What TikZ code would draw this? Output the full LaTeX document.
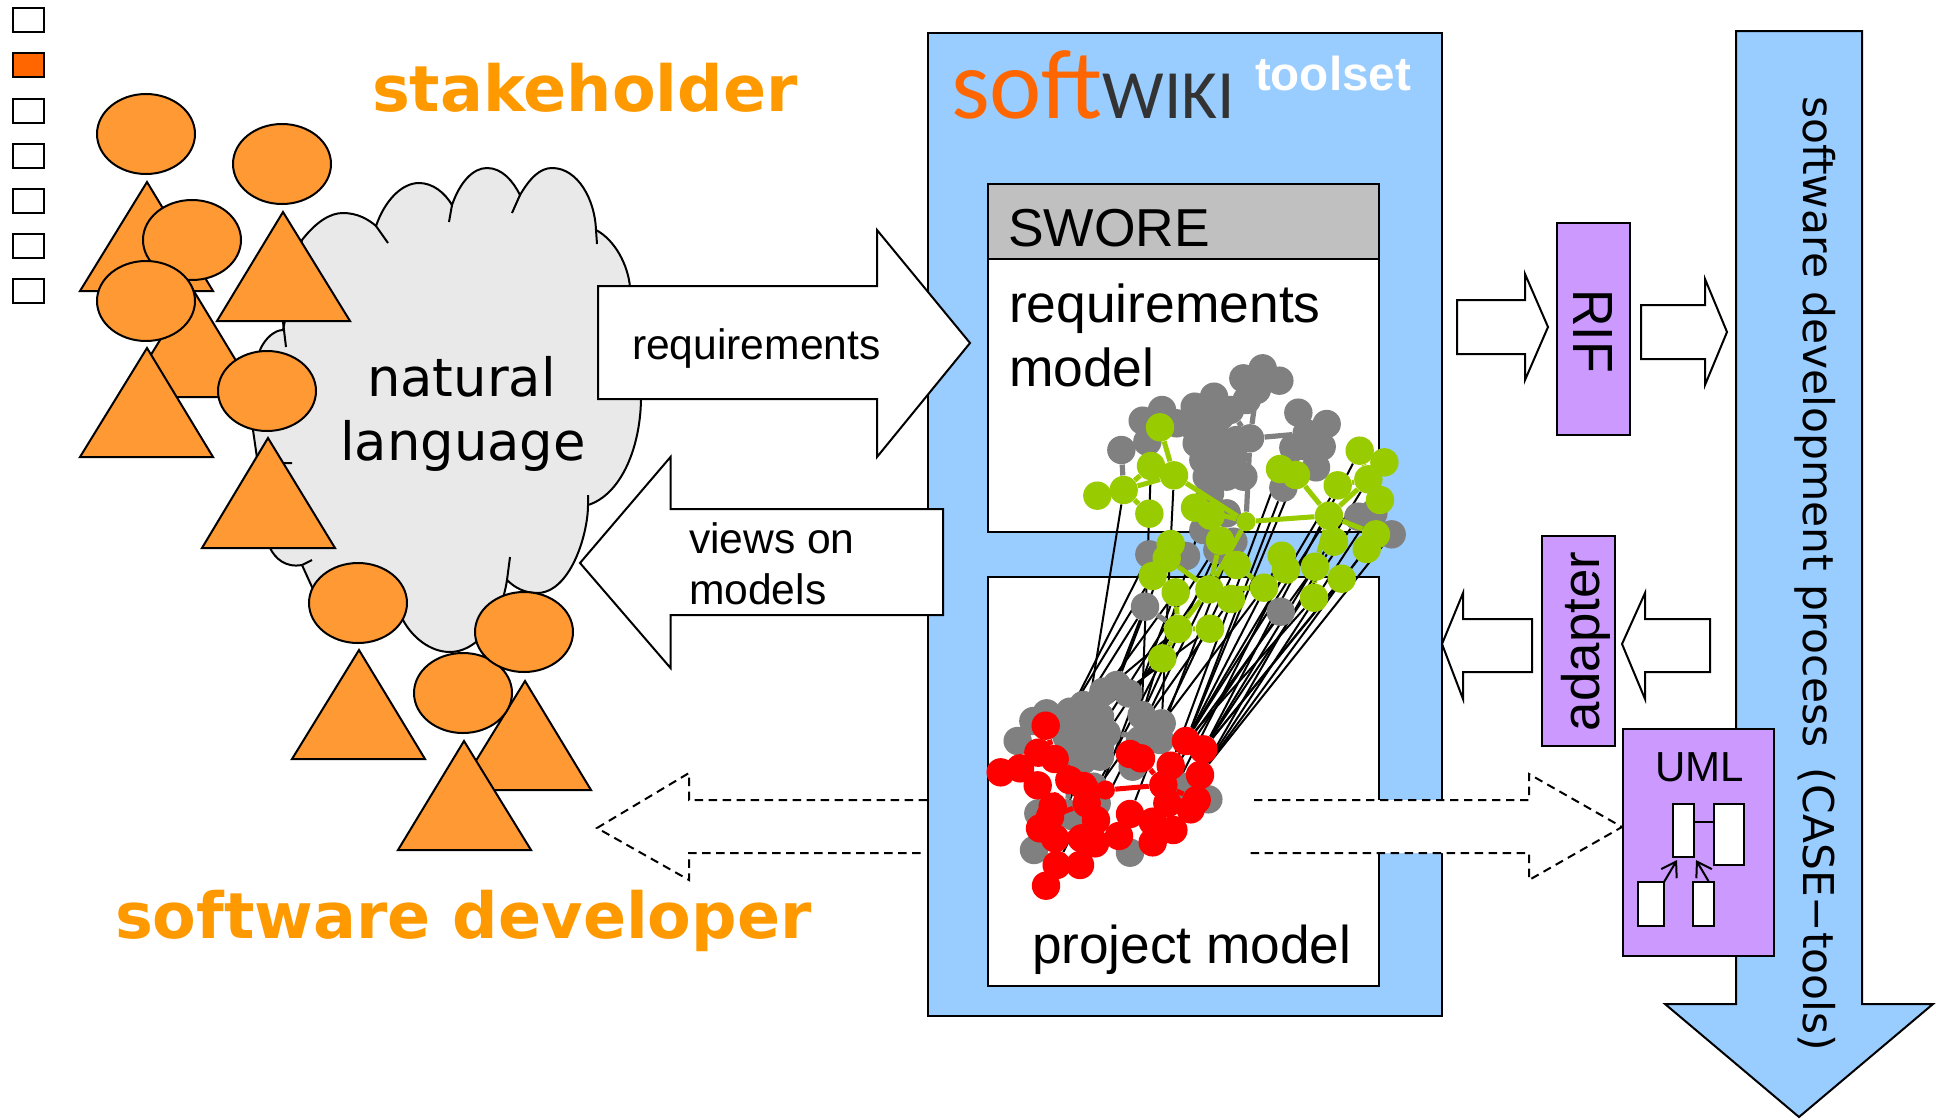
\documentclass[tikz,border=0pt]{standalone}
\usepackage{fontspec}
\usepackage{graphicx}
\setmainfont{Liberation Sans}
\newfontfamily\dv{DejaVu Sans}
\newfontfamily\crl{Carlito}
\usetikzlibrary{arrows.meta}
\definecolor{shapeorange}{HTML}{FF9933}
\definecolor{textorange}{HTML}{FF9900}
\definecolor{softorange}{HTML}{FF6600}
\definecolor{wikidark}{HTML}{333333}
\definecolor{toolblue}{HTML}{99CCFF}
\definecolor{toolpurple}{HTML}{CC99FF}
\definecolor{headgray}{HTML}{C0C0C0}
\definecolor{cloudgray}{HTML}{E9E9E9}
\definecolor{nodegray}{HTML}{808080}
\definecolor{nodegreen}{HTML}{99CC00}
\definecolor{nodered}{HTML}{FF0000}
\pgfdeclarelayer{base}
\pgfdeclarelayer{links}
\pgfsetlayers{base,links,main}
\usetikzlibrary{shapes.geometric}
\tikzset{
  ln/.style={line width=1pt,draw=black,line join=miter},
  boxn/.style={ln,inner sep=0pt,anchor=north west,outer sep=0pt},
  lab/.style={anchor=base west,inner sep=0pt,outer sep=0pt,text=black},
  head/.style={ellipse,ln,fill=shapeorange,minimum width=49pt,minimum height=40pt,inner sep=0pt},
  body/.style={ln,fill=shapeorange},
  blockarrow/.style={ln,fill=white},
  dasharrow/.style={line width=1pt,draw=black,dash pattern=on 4.2pt off 2.8pt},
  gdot/.style={circle,fill=nodegray,inner sep=0pt,minimum size=14.2pt},
  gr/.style={circle,fill=nodegreen,inner sep=0pt,minimum size=14.2pt},
  rd/.style={circle,fill=nodered,inner sep=0pt,minimum size=14.2pt},
  gedge/.style={draw=nodegray,line width=2.6pt},
  gnedge/.style={draw=nodegreen,line width=2.5pt},
  rdedge/.style={draw=nodered,line width=2.5pt},
  blk/.style={draw=black,line width=1pt},
  umlr/.style={boxn,fill=white},
}
\begin{document}
\begin{tikzpicture}[x=0.5pt,y=-0.5pt]
\useasboundingbox (0,0) rectangle (1936,1119);
\begin{pgfonlayer}{base}
% legend squares
\foreach \i/\yy/\cc in {1/8/white,2/53/softorange,3/99/white,4/144/white,5/189/white,6/234/white,7/279/white}
  \node[boxn,fill=\cc,minimum width=15.5pt,minimum height=12pt] (sq\i) at (13,\yy) {};
% cloud
\draw[ln,fill=cloudgray]
 (302,240) .. controls (316,222) and (330,213) .. (343,213) .. controls (357,213) and (368,219) .. (376,226)
 .. controls (385,200) and (402,183) .. (419,183) .. controls (433,183) and (445,193) .. (452,205)
 .. controls (460,182) and (473,168) .. (487,168) .. controls (502,168) and (513,181) .. (520,195)
 .. controls (530,178) and (540,168) .. (552,168) .. controls (578,168) and (595,200) .. (596,230)
 .. controls (615,240) and (628,265) .. (630,287) .. controls (640,320) and (642,360) .. (641,400)
 .. controls (640,450) and (620,495) .. (588,505)
 .. controls (588,535) and (570,593) .. (537,593) .. controls (525,593) and (515,588) .. (507,580)
 .. controls (500,625) and (475,652) .. (450,652) .. controls (430,652) and (412,637) .. (403,620)
 -- (312,587) -- (302,565)
 .. controls (285,568) and (275,558) .. (270,548)
 -- (253,430) -- (260,350)
 .. controls (265,338) and (275,330) .. (283,330) -- cycle;
\draw[ln] (376,226) -- (388,243) (452,205) -- (449,222) (520,195) -- (512,213) (596,230) -- (597,244)
 (588,505) -- (588,495) (507,580) -- (510,557) (280,463) -- (292,463) (302,565) -- (312,560) (283,322) -- (286,347);
\node[lab,font=\dv\fontsize{26.4}{27}\selectfont] (nlA) at (367,396) {natural};
\node[lab,font=\dv\fontsize{26.4}{27}\selectfont] (nlB) at (340,460) {language};
% stick figures
\node[head] (e1) at (146,134) {};
\draw[body] (147,182) -- (80,291) -- (213,291) -- cycle;
\node[head] (e2) at (282,164) {};
\draw[body] (283,212) -- (217,321) -- (350,321) -- cycle;
\draw[body] (192,288) -- (125,397) -- (258,397) -- cycle;
\node[head] (e3) at (192,240) {};
\node[head] (e4) at (146,301) {};
\draw[body] (147,348) -- (80,457) -- (213,457) -- cycle;
\node[head] (e5) at (267,391) {};
\draw[body] (268,438) -- (202,548) -- (335,548) -- cycle;
\node[head] (e6) at (358,603) {};
\draw[body] (359,650) -- (292,759) -- (425,759) -- cycle;
\draw[body] (525,681) -- (458,790) -- (591,790) -- cycle;
\node[head] (e8) at (463,693) {};
\node[head] (e7) at (524,632) {};
\draw[body] (464,741) -- (398,850) -- (531,850) -- cycle;
% headings
\node[lab,font=\dv\bfseries\fontsize{31.8}{32}\selectfont,text=textorange] (stk) at (372,111) {stakeholder};
\node[lab,font=\dv\bfseries\fontsize{31.8}{32}\selectfont,text=textorange] (dev) at (115,938) {software developer};
% big process arrow
\draw[ln,fill=toolblue] (1736,31) -- (1862,31) -- (1862,1004) -- (1933,1004) -- (1799,1117) -- (1665,1004) -- (1736,1004) -- cycle;
\node[lab,rotate=-90,font=\dv\fontsize{21.2}{22}\selectfont] (proc) at (1803,96) {software development process\hspace{0.16em} (CASE−tools)};
% toolset box
\node[boxn,fill=toolblue,minimum width=257pt,minimum height=491.5pt] (tool) at (928,33) {};
\node[lab,text=softorange,font=\crl\fontsize{49.5}{50}\selectfont] (logo) at (951,118) {soft{\color{wikidark}\fontsize{34.6}{36}\selectfont WIKI}};
\node[lab,text=white,font=\bfseries\fontsize{23.8}{24}\selectfont] (tset) at (1255,90) {toolset};
% requirements box
\node[boxn,fill=white,minimum width=195.5pt,minimum height=174pt] (reqbox) at (988,184) {};
\node[boxn,fill=headgray,minimum width=195.5pt,minimum height=37.5pt] (swore) at (988,184) {};
\node[lab,font=\fontsize{26.7}{27}\selectfont] (sw) at (1008,246) {SWORE};
\node[lab,font=\fontsize{26.7}{27}\selectfont] (rq1) at (1009,322) {requirements};
\node[lab,font=\fontsize{26.7}{27}\selectfont] (rq2) at (1009,386) {model};
% project box
\node[boxn,fill=white,minimum width=195.5pt,minimum height=204.5pt] (prjbox) at (988,577) {};
\node[lab,font=\fontsize{26.6}{27}\selectfont] (prj) at (1032,963) {project model};
% main block arrows
\draw[blockarrow] (598,286) -- (877,286) -- (877,230) -- (970,343) -- (877,457) -- (877,399) -- (598,399) -- cycle;
\node[lab,font=\fontsize{21.3}{22}\selectfont] (reqa) at (632,359) {requirements};
\draw[blockarrow] (580,563) -- (670.5,457) -- (670.5,509) -- (943,509) -- (943,615) -- (670.5,615) -- (670.5,668) -- cycle;
\node[lab,font=\fontsize{21.3}{22}\selectfont] (vw1) at (689,553) {views on};
\node[lab,font=\fontsize{21.3}{22}\selectfont] (vw2) at (689,604) {models};
% dashed arrows
\draw[dasharrow] (927,800) -- (689,800) -- (689,773) -- (597,828) -- (689,880) -- (689,853) -- (923,853);
\fill[white] (1254,800) -- (1529,800) -- (1529,774) -- (1622,827) -- (1529,880) -- (1529,853) -- (1250,853) -- cycle;
\draw[dasharrow] (1254,800) -- (1529,800) -- (1529,774) -- (1622,827) -- (1529,880) -- (1529,853) -- (1250,853);
% small block arrows
\draw[blockarrow] (1457,300) -- (1525,300) -- (1525,274) -- (1548,327) -- (1525,380) -- (1525,354) -- (1457,354) -- cycle;
\draw[blockarrow] (1641,305) -- (1705,305) -- (1705,279) -- (1727,332) -- (1705,385) -- (1705,359) -- (1641,359) -- cycle;
\draw[blockarrow] (1442,644) -- (1463,593) -- (1463,619) -- (1532,619) -- (1532,672) -- (1463,672) -- (1463,699) -- cycle;
\draw[blockarrow] (1622,644) -- (1645,593) -- (1645,619) -- (1710,619) -- (1710,672) -- (1645,672) -- (1645,699) -- cycle;
% purple boxes
\node[boxn,fill=toolpurple,minimum width=36.5pt,minimum height=106pt] (rif) at (1557,223) {};
\node[lab,rotate=-90,font=\fontsize{26}{27}\selectfont] (riflab) at (1573,289) {\scalebox{1}[1.09]{RIF}};
\node[boxn,fill=toolpurple,minimum width=36.5pt,minimum height=105pt] (adapter) at (1542,536) {};
\node[lab,rotate=90,font=\fontsize{26.4}{27}\selectfont] (adlab) at (1599,731) {adapter};
\node[boxn,fill=toolpurple,minimum width=75.5pt,minimum height=113.5pt] (uml) at (1623,729) {};
\node[lab,font=\fontsize{21}{22}\selectfont] (umll) at (1655,781) {UML};
\node[umlr,minimum width=10.5pt,minimum height=26.5pt] (um1) at (1673,804) {};
\node[umlr,minimum width=15pt,minimum height=30.5pt] (um2) at (1714,804) {};
\node[umlr,minimum width=13pt,minimum height=22pt] (um3) at (1638,882) {};
\node[umlr,minimum width=10.5pt,minimum height=22pt] (um4) at (1693,882) {};
\coordinate (ta) at (1677,860);
\coordinate (tb) at (1696,860);
\draw[ln] (um1.east |- 0,822) -- (um2.west |- 0,822);
\draw[ln,-{Straight Barb[length=7pt,width=9pt]}] (um3.north east) -- (ta);
\draw[ln,-{Straight Barb[length=7pt,width=9pt]}] (um4.north west) ++(16,0) -- (tb);
\end{pgfonlayer}
% upper graph
\begin{scope}[shift={(960,340)},x=0.16667pt,y=-0.16667pt]
\foreach \i/\a/\b in {1/908/85,2/850/115,3/958/122,4/890/150,5/860/180,6/548/242,7/606/210,8/650/250,9/562/305,10/484/330,11/704/200,12/762/170,13/810/210,14/740/240,15/710/310,16/770/290,17/870/295,18/830/300,19/730/360,20/800/370,21/850/410,22/740/410,23/800/410,24/770/350,25/750/460,26/1015/218,27/1100/252,28/1040/280,29/1000/323,30/1085/320,31/1068/382,32/970/443,33/1195/530,34/1240/520,35/1295/583,36/800/520,37/730/570,38/820/605,39/772/630,40/568/643,41/678/648,42/555/800,43/962/815,44/780/230,45/760/300,46/740/300,47/700/260,48/770/400,49/820/350,50/900/130,51/1040/320}
  \node[gdot] (G\i) at (\a,\b) {};
\end{scope}
% lower gray
\begin{scope}[shift={(960,640)},x=0.16667pt,y=-0.16667pt]
\foreach \i/\a/\b in {1/470/135,2/430/155,3/505/160,4/370/195,5/330/215,6/260/220,7/220/243,8/173/303,9/545/225,10/605/250,11/575/290,12/380/240,13/440/280,14/340/290,15/400/300,16/330/340,17/420/350,18/370/360,19/518/380,20/670/440,21/745/478,22/235/520,23/320/520,24/400/440,25/410/490,26/222/630,27/510/638,28/340/530,29/400/200,30/420/230,31/360/250,32/300/260,33/350/320,34/320/290,35/380/320,36/420/320,37/600/300,38/540/300}
  \node[gdot] (L\i) at (\a,\b) {};
\end{scope}
% green
\begin{scope}[shift={(960,340)},x=0.16667pt,y=-0.16667pt]
\foreach \i/\a/\b in {1/600/262,2/573/378,3/642/406,4/412/467,5/491/450,6/568/521,7/705/503,8/752/527,10/960/387,11/1008/405,12/1133/436,13/1199/332,14/1273/367,15/1225/418,16/1260/480,17/1107/527,18/1248/583,19/1220/627,20/1122/605,21/780/602,22/830/675,23/632/612,24/620/655,25/578/708,26/647/757,27/748/748,28/813/777,29/912/743,30/965/647,31/978/688,32/1065/680,33/1145/716,34/1062/773,35/654/867,36/750/866,37/607/955}
  \node[gr] (H\i) at (\a,\b) {};
\node[gr,minimum size=9.6pt] (H9) at (858,545) {};
\end{scope}
% red
\begin{scope}[shift={(960,640)},x=0.16667pt,y=-0.16667pt]
\foreach \i/\a/\b in {1/257/257,2/235/338,3/284/357,4/122/397,5/180/385,6/233/436,7/328/420,8/370/438,10/380/490,11/278/500,12/270/530,13/240/565,14/285/595,15/408/540,16/365/595,17/405/610,18/477/588,19/510/522,20/510/342,21/543/355,22/632/377,23/678/303,24/730/328,25/720/405,26/610/435,27/622/490,28/710/480,29/692/508,30/578/545,31/640/570,32/578/607,33/290/675,34/360/675,35/258/737}
  \node[rd] (R\i) at (\a,\b) {};
\node[rd,minimum size=9.6pt] (R9) at (436,450) {};
\end{scope}
\begin{pgfonlayer}{links}
\foreach \p/\q in {H5/L12,H2/L9,H3/L10,G40/L5,G42/L4,H25/L5,H26/L2,H35/L2,H37/L3,H36/L12,H9/L13,H21/L15,H22/L10,G25/R20,H29/L11,G38/R19,H10/R22,G32/R23,H11/R23,H15/R24,H13/R24,H18/R25,H19/R24,H33/R24,H34/R23,G43/R26,H30/R26,H31/R27,H28/R10,H26/R16,G42/R14,H35/R33,G39/L9,H23/L1,H17/R23,H20/R25,H32/R22,H16/R25,G35/R25,G33/R24,H12/R23,H27/R15}
  \draw[blk] (\p) -- (\q);
\foreach \p/\q in {G4/G17,G17/H9,G17/G28,G13/G17,G10/H5,G42/H35,L13/L11,L14/L23}
  \draw[gedge] (\p) -- (\q);
\end{pgfonlayer}
\foreach \p/\q in {H1/H3,H5/H3,H5/H2,H4/H5,H5/H6,H3/H9,H7/H9,H9/H17,H9/H27,H21/H27,H11/H17,H17/H15,H12/H15,H13/H15,H14/H15,H15/H16,H17/H18,H18/H19,H17/H32,H20/H17,H24/H27,H23/H24,H24/H25,H27/H29,H27/H28,H22/H29,H29/H31,H31/H30,H31/H32,H32/H33,H32/H34,H27/H35,H26/H35,H35/H36,H35/H37}
  \draw[gnedge] (\p) -- (\q);
\foreach \p/\q in {R1/R3,R4/R5,R5/R2,R2/R3,R3/R9,R8/R9,R7/R9,R9/R26,R21/R26,R26/R28,R22/R26,R26/R27,R10/R9,R10/R15,R12/R10,R11/R12,R12/R13,R13/R14,R15/R17,R16/R17,R17/R18,R18/R19,R30/R27,R30/R31,R30/R32,R27/R29,R14/R33,R33/R34,R33/R35,R28/R25,R25/R24,R24/R23,R6/R5}
  \draw[rdedge] (\p) -- (\q);
\end{tikzpicture}
\end{document}
